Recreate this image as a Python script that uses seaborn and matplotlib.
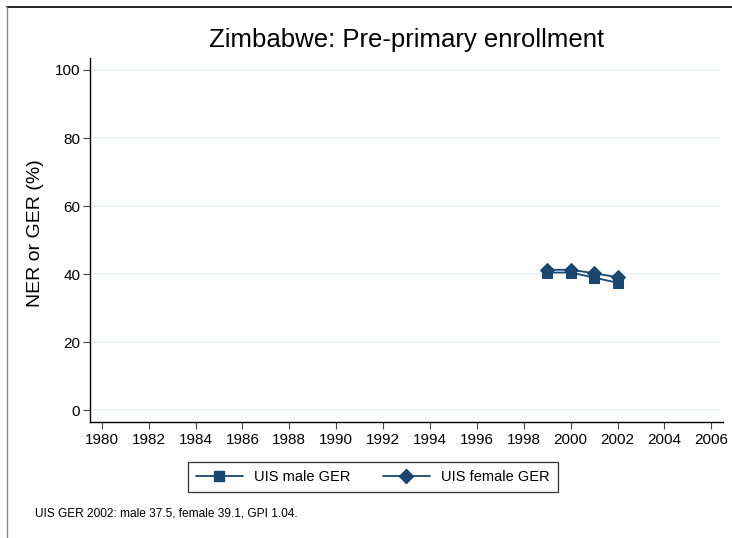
import matplotlib
matplotlib.use("Agg")
import matplotlib.pyplot as plt
import seaborn as sns
import pandas as pd
from matplotlib.lines import Line2D

# Data
years = [1999, 2000, 2001, 2002]
male_ger = [40.5, 40.5, 39.0, 37.5]
female_ger = [41.3, 41.3, 40.3, 39.1]
x_ticks = list(range(1980, 2007, 2))
y_ticks = [0, 20, 40, 60, 80, 100]

navy = "#1a476f"

sns.set_style("white")
plt.rcParams["font.family"] = ["Liberation Sans", "DejaVu Sans"]
plt.rcParams["text.color"] = "black"
plt.rcParams["axes.labelcolor"] = "black"
plt.rcParams["xtick.color"] = "black"
plt.rcParams["ytick.color"] = "black"

df_male = pd.DataFrame({"year": years, "value": male_ger})
df_female = pd.DataFrame({"year": years, "value": female_ger})

fig = plt.figure(figsize=(7.32, 5.38), dpi=100)
ax = fig.add_axes([90 / 732, 1 - 422 / 538, (723 - 90) / 732, (422 - 58) / 538])

for y in y_ticks:
    ax.axhline(y, xmin=0.005, xmax=0.995, color="#eaf2f3", lw=1.2, zorder=0)

sns.lineplot(data=df_male, x="year", y="value", ax=ax, color=navy,
             marker="s", markersize=7, markeredgecolor=navy, lw=1.3)
sns.lineplot(data=df_female, x="year", y="value", ax=ax, color=navy,
             marker="D", markersize=7.5, markeredgecolor=navy, lw=1.3)

ax.set_xlim(1979.5, 2006.5)
ax.set_ylim(-3.4, 103.5)
ax.set_xticks(x_ticks)
ax.set_yticks(y_ticks)
ax.tick_params(axis="both", length=5, width=0.8, color="#444444", labelsize=11,
               bottom=True, left=True)
ax.tick_params(axis="y", pad=2)
ax.tick_params(axis="x", pad=3)
for side in ["top", "right"]:
    ax.spines[side].set_visible(False)
for side in ["left", "bottom"]:
    ax.spines[side].set_color("black")
    ax.spines[side].set_linewidth(1.0)

ax.set_xlabel("")
ax.set_ylabel("NER or GER (%)", fontsize=14, labelpad=8)
ax.yaxis.label.set_y((422 - 233.5) / 364)
ax.set_title("Zimbabwe: Pre-primary enrollment", fontsize=18.5, pad=8)

handles = [
    Line2D([], [], color=navy, marker="s", markersize=6.5, lw=1.3),
    Line2D([], [], color=navy, marker="D", markersize=7, lw=1.3),
]
leg = fig.legend(handles, ["UIS male GER", "UIS female GER"], loc="center",
                 bbox_to_anchor=(373 / 732, 1 - 477 / 538), ncol=2,
                 fontsize=10.5, frameon=True, fancybox=False, edgecolor="black",
                 handlelength=3.2, columnspacing=2.2, borderpad=0.55)
leg.get_frame().set_linewidth(0.9)

fig.text(35 / 732, 1 - 513 / 538, "UIS GER 2002: male 37.5, female 39.1, GPI 1.04.",
         fontsize=8.6, va="center", ha="left")

# outer frame: top and left edges
fig.add_artist(Line2D([7 / 732, 1], [1 - 7 / 538, 1 - 7 / 538],
                      transform=fig.transFigure, color="black", lw=1.2))
fig.add_artist(Line2D([7 / 732, 7 / 732], [0, 1 - 7 / 538],
                      transform=fig.transFigure, color="#888888", lw=1.0))

fig.savefig("out.png", dpi=100)
plt.close(fig)
